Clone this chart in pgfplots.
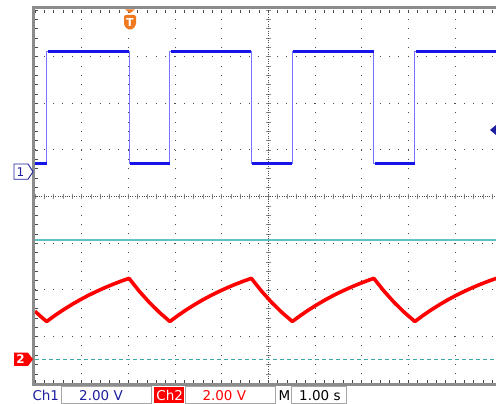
\documentclass[border=0pt]{standalone}
\usepackage{fontspec}
\setmainfont{DejaVu Sans}
\usepackage{pgfplots}
\pgfplotsset{compat=1.18}
\definecolor{tracebl}{RGB}{20,20,235}
\definecolor{edgebl}{RGB}{115,115,255}
\definecolor{labbl}{RGB}{30,30,160}
\definecolor{tracered}{RGB}{255,0,0}
\definecolor{cyanln}{RGB}{95,195,195}
\definecolor{cyandash}{RGB}{60,170,170}
\definecolor{framegray}{RGB}{140,140,140}
\definecolor{trigor}{RGB}{240,120,30}
\begin{document}
\begin{tikzpicture}[x=1pt,y=1pt]
\path[use as bounding box] (0,0) rectangle (496,404);
\begin{axis}[
  at={(35pt,20.667pt)}, anchor=south west,
  scale only axis, width=461.07pt, height=373.333pt,
  xmin=0, xmax=9.88, ymin=0, ymax=8,
  axis line style={draw=none},
  xtick={0,...,9}, ytick={0,...,8},
  minor xtick={0.2,0.4,...,9.8},
  minor ytick={0.2,0.4,...,7.8},
  xticklabels={}, yticklabels={},
  tick align=inside, ytick pos=left,
  major tick length=3pt, minor tick length=3pt,
  every tick/.style={black!70, line width=0.8pt},
  unbounded coords=jump,
  clip=true,
]
% grid
\pgfplotsinvokeforeach{1,2,3,4,6,7,8,9}{
  \draw[black!70, line width=1pt, dash pattern=on 1pt off 8.333pt, dash phase=0.5pt] (axis cs:#1,0) -- (axis cs:#1,8);
}
\pgfplotsinvokeforeach{1,2,3,5,6,7}{
  \draw[black!70, line width=1pt, dash pattern=on 1pt off 8.333pt, dash phase=0.5pt] (axis cs:0,#1) -- (axis cs:9.88,#1);
}
% centre lines
\draw[black!45, line width=4.5pt, dash pattern=on 0.8pt off 8.533pt, dash phase=0.4pt] (axis cs:5,0) -- (axis cs:5,8);
\draw[black!45, line width=4.5pt, dash pattern=on 0.8pt off 8.533pt, dash phase=0.4pt] (axis cs:0,4) -- (axis cs:9.88,4);
\draw[black!70, line width=1pt, dash pattern=on 1pt off 1.333pt, dash phase=0.5pt] (axis cs:5,0) -- (axis cs:5,8);
\draw[black!70, line width=1pt, dash pattern=on 1pt off 1.333pt, dash phase=0.5pt] (axis cs:0,4) -- (axis cs:9.88,4);
% reference lines
\addplot[cyanln, line width=1.8pt] coordinates {(0,3.071) (9.88,3.071)};
\addplot[cyandash, line width=1pt, dash pattern=on 4pt off 3pt] coordinates {(0,0.515) (9.88,0.515)};
% channel 1: thin full trace
\addplot[edgebl, line width=1pt] coordinates {
(0,4.715) (0.25,4.715) (0.25,7.106) (2.015,7.106) (2.015,4.715) (2.89,4.715)
(2.89,7.106) (4.635,7.106) (4.635,4.715) (5.515,4.715) (5.515,7.106) (7.26,7.106)
(7.26,4.715) (8.14,4.715) (8.14,7.106) (9.88,7.106)};
% channel 1: noisy levels
\addplot[tracebl, line width=3pt] coordinates {
(0,4.715) (0.25,4.715) (0.25,nan)
(0.27,7.106) (2.015,7.106) (2.015,nan)
(2.035,4.715) (2.89,4.715) (2.89,nan)
(2.91,7.106) (4.635,7.106) (4.635,nan)
(4.655,4.715) (5.515,4.715) (5.515,nan)
(5.535,7.106) (7.26,7.106) (7.26,nan)
(7.28,4.715) (8.14,4.715) (8.14,nan)
(8.16,7.106) (9.88,7.106)};
% channel 2
\addplot[tracered, line width=3.6pt, line join=round] coordinates {
(0,1.544) (0.125,1.430) (0.25,1.325)
(0.4265,1.454) (0.603,1.573) (0.7795,1.683) (0.956,1.785) (1.1325,1.879)
(1.309,1.965) (1.4855,2.045) (1.662,2.119) (1.8385,2.187) (2.015,2.25)
(2.234,1.974) (2.453,1.730) (2.671,1.515) (2.89,1.325)
(3.0645,1.454) (3.239,1.573) (3.4135,1.683) (3.588,1.785) (3.7625,1.879)
(3.937,1.965) (4.1115,2.045) (4.286,2.119) (4.4605,2.187) (4.635,2.25)
(4.855,1.974) (5.075,1.730) (5.295,1.515) (5.515,1.325)
(5.6895,1.454) (5.864,1.573) (6.0385,1.683) (6.213,1.785) (6.3875,1.879)
(6.562,1.965) (6.7365,2.045) (6.911,2.119) (7.0855,2.187) (7.26,2.25)
(7.48,1.974) (7.70,1.730) (7.92,1.515) (8.14,1.325)
(8.3145,1.454) (8.489,1.573) (8.6635,1.683) (8.838,1.785) (9.0125,1.879)
(9.187,1.965) (9.3615,2.045) (9.536,2.119) (9.7105,2.187) (9.885,2.25)};
\end{axis}
% frame
\draw[framegray, line width=3pt] (33.5,18) -- (33.5,396.5);
\draw[framegray, line width=3pt] (32,396) -- (496,396);
\draw[framegray, line width=3pt] (32,19.2) -- (496,19.2);
% trigger marker
\fill[trigor] (125,394.7) -- (135,394.7) -- (130,390.7) -- cycle;
\fill[trigor, rounded corners=2pt] (124,389) -- (136,389) -- (136,378) -- (130,373.3) -- (124,378) -- cycle;
\node[white, font=\bfseries\fontsize{11}{12}\selectfont, inner sep=0] at (130,381.5) {T};
% trigger level marker
\fill[labbl] (490,274) -- (496,279) -- (502,274) -- (496,269) -- cycle;
% channel markers
\draw[labbl, fill=white, line width=0.9pt] (14,240) -- (28,240) -- (33,232.3) -- (28,224.7) -- (14,224.7) -- cycle;
\node[labbl, font=\fontsize{12}{13}\selectfont, inner sep=0] at (20.5,232.3) {1};
\fill[tracered] (14,51.3) -- (28,51.3) -- (33,44.7) -- (28,38) -- (14,38) -- cycle;
\node[white, font=\bfseries\fontsize{12}{13}\selectfont, inner sep=0] at (20.5,44.7) {2};
% status bar
\draw[black!35, fill=white, line width=0.8pt] (61.7,0.7) rectangle (151.7,17.3);
\fill[tracered] (154,0.7) rectangle (184,17.3);
\draw[black!35, fill=white, line width=0.8pt] (185,0.7) rectangle (275.7,17.3);
\draw[black!35, fill=white, line width=0.8pt] (291.7,0.7) rectangle (346.7,17.3);
\begin{scope}[every node/.style={inner sep=0, anchor=base west, font=\fontsize{13.5}{15}\selectfont}]
\node[labbl] at (32.3,3.3) {Ch1};
\node[labbl] at (79,3.3) {2.00 V};
\node[white] at (156.2,3.3) {Ch2};
\node[tracered] at (202.3,3.3) {2.00 V};
\node[black] at (278.3,3.3) {M};
\node[black] at (299,3.3) {1.00 s};
\end{scope}
\end{tikzpicture}
\end{document}
